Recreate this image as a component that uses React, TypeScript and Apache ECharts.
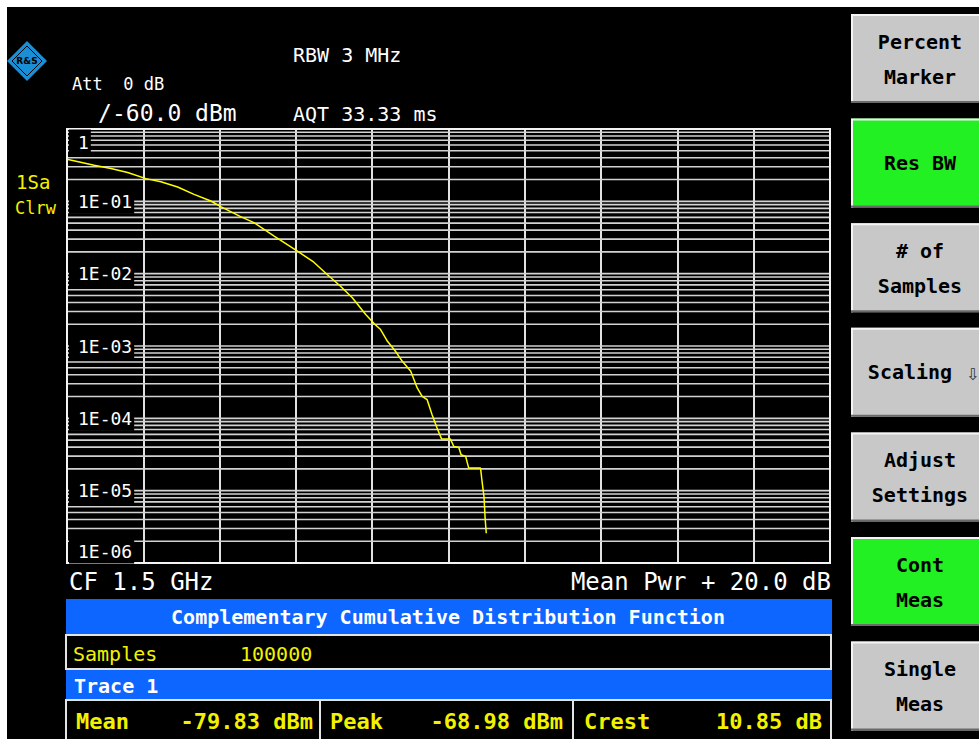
import React, { useEffect, useRef } from "react";
import * as echarts from "echarts";

// CCDF trace (x: dB above mean power, y: probability)
const powerDb = [0, 0.71, 1.15, 1.59, 2.07, 2.46, 2.9, 3.33, 3.77, 4.03, 4.55, 4.9, 5.43, 6.04, 6.47, 6.82, 7.17, 7.48, 7.83, 8.05, 8.22, 8.4, 8.61, 8.79, 9.01, 9.18, 9.31, 9.44, 9.57, 9.7, 9.82, 10.05, 10.14, 10.27, 10.33, 10.45, 10.53, 10.84, 10.88, 10.93, 10.96, 10.99];
const ccdf = [0.382, 0.315, 0.284, 0.25, 0.206, 0.187, 0.158, 0.125, 0.101, 0.0845, 0.0614, 0.0507, 0.0331, 0.0205, 0.0144, 0.00975, 0.00671, 0.00464, 0.00272, 0.00204, 0.00169, 0.00116, 0.000845, 0.000614, 0.000447, 0.000263, 0.000201, 0.000181, 0.000112, 0.0000734, 0.0000516, 0.0000516, 0.0000408, 0.0000395, 0.0000313, 0.0000297, 0.0000205, 0.0000205, 0.0000134, 0.00000828, 0.00000416, 0.00000258];

const decadeValues = [1, 1e-1, 1e-2, 1e-3, 1e-4, 1e-5, 1e-6];
const decadeLabels = ["1", "1E-01", "1E-02", "1E-03", "1E-04", "1E-05", "1E-06"];
const mantissas = [1, 2, 3, 4, 5, 6, 7, 8, 9];

const softkeys = [
  { lines: ["Percent", "Marker"], active: false },
  { lines: ["Res BW"], active: true },
  { lines: ["# of", "Samples"], active: false },
  { lines: ["Scaling"], active: false },
  { lines: ["Adjust", "Settings"], active: false },
  { lines: ["Cont", "Meas"], active: true },
  { lines: ["Single", "Meas"], active: false },
];

const statNames = ["Mean", "Peak", "Crest"];
const statValues = ["-79.83 dBm", "-68.98 dBm", "10.85 dB"];

const FONT = "DejaVu Sans Mono";
const YEL = "#f2f200";
const BLUE = "#0d66ff";
const GRIDC = "#d2d2d2";

export default function App() {
  const ref = useRef<HTMLDivElement>(null);
  useEffect(() => {
    if (!ref.current) return;
    const chart = echarts.init(ref.current, undefined, { renderer: "svg" });

    const gridValues: number[][] = [];
    for (let e = -6; e <= -1; e++) {
      for (const m of mantissas) {
        if (e === -6 && m === 1) continue;
        gridValues.push([0, m * Math.pow(10, e)]);
      }
    }

    chart.setOption({
      animation: false,
      backgroundColor: "#fff",
      textStyle: { fontFamily: FONT },
      grid: {
        left: 67,
        right: 149,
        top: 129,
        bottom: 176,
        show: true,
        borderColor: "#f4f4f4",
        borderWidth: 2,
        backgroundColor: "transparent",
        z: 4,
      },
      xAxis: {
        type: "value",
        min: 0,
        max: 20,
        interval: 2,
        axisLine: { show: false },
        axisTick: { show: false },
        axisLabel: { show: false },
        splitLine: { show: true, lineStyle: { color: "#e2e2e2", width: 2 } },
      },
      yAxis: {
        type: "log",
        logBase: 10,
        min: 1e-6,
        max: 1,
        axisLine: { show: false },
        axisTick: { show: false },
        axisLabel: { show: false },
        splitLine: { show: false },
      },
      series: [
        {
          type: "custom",
          z: 1,
          silent: true,
          encode: { x: 0, y: 1 },
          data: gridValues,
          renderItem: (params: any, api: any) => {
            const v = api.value(1);
            const p1 = api.coord([0, v]);
            const p2 = api.coord([20, v]);
            return {
              type: "line",
              shape: { x1: p1[0], y1: p1[1], x2: p2[0], y2: p2[1] },
              style: { stroke: GRIDC, lineWidth: 1.6 },
            };
          },
        },
        {
          type: "line",
          data: powerDb.map((x, i) => [x, ccdf[i]]),
          showSymbol: false,
          z: 3,
          lineStyle: { color: "#ffff00", width: 1.5 },
          itemStyle: { color: "#ffff00" },
        },
      ],
    });

    const els: any[] = [];
    const T = (text: string, x: number, y: number, size: number, fill: string, opts: any = {}) => ({
      type: "text",
      z: 20,
      style: {
        text,
        x,
        y,
        fill,
        fontSize: size,
        fontFamily: opts.family || FONT,
        fontWeight: opts.bold ? "bold" : "normal",
        align: opts.align || "left",
        verticalAlign: "middle",
        ...(opts.style || {}),
      },
    });

    // black screen
    els.push({ type: "rect", z: -10, shape: { x: 7, y: 7, width: 980, height: 740 }, style: { fill: "#000" } });

    // logo
    els.push({ type: "polygon", z: 5, shape: { points: [[27, 41], [47, 61], [27, 81], [7, 61]] }, style: { fill: "#1a8fd6" } });
    els.push({ type: "polygon", z: 5, shape: { points: [[27, 46], [42, 61], [27, 76], [12, 61]] }, style: { fill: "none", stroke: "#000", lineWidth: 1 } });
    els.push(T("R&S", 27, 61, 9, "#000", { bold: true, align: "center", family: "DejaVu Sans" }));

    // header texts
    els.push(T("RBW 3 MHz", 293, 55, 20, "#fff"));
    els.push(T("Att  0 dB", 72, 84, 17, "#fff"));
    els.push(T("/", 98, 113, 23, "#fff"));
    els.push(T("-60.0 dBm", 112, 113, 23, "#fff"));
    els.push(T("AQT 33.33 ms", 293, 114, 20, "#fff"));
    els.push(T("1Sa", 16, 182, 19, YEL));
    els.push(T("Clrw", 15, 208, 17, YEL));

    // y decade labels placed through the axis scale
    decadeValues.forEach((v, i) => {
      const py = chart.convertToPixel({ yAxisIndex: 0 }, v) as number;
      let y = py;
      if (i === 0) y = py + 13;
      if (i === decadeValues.length - 1) y = py - 12;
      els.push(
        T(decadeLabels[i], 69, y, 18, "#fff", {
          style: { backgroundColor: "#000", padding: [4, 2, 3, 9] },
        })
      );
    });

    // bottom annotations
    els.push(T("CF 1.5 GHz", 69, 582, 24, "#fff"));
    els.push(T("Mean Pwr + 20.0 dB", 831, 582, 24, "#fff", { align: "right" }));

    // table
    els.push({ type: "rect", z: 5, shape: { x: 66, y: 599, width: 766, height: 35 }, style: { fill: BLUE } });
    els.push(T("Complementary Cumulative Distribution Function", 448, 617, 20, "#fff", { bold: true, align: "center" }));
    els.push({ type: "rect", z: 5, shape: { x: 66, y: 635, width: 765, height: 34 }, style: { fill: "#000", stroke: "#e4e4e4", lineWidth: 2 } });
    els.push(T("Samples", 73, 654, 20, YEL));
    els.push(T("100000", 240, 654, 20, YEL));
    els.push({ type: "rect", z: 5, shape: { x: 66, y: 670, width: 766, height: 29 }, style: { fill: BLUE } });
    els.push(T("Trace 1", 74, 686, 20, "#fff", { bold: true }));
    els.push({ type: "rect", z: 5, shape: { x: 66, y: 700, width: 765, height: 50 }, style: { fill: "#000", stroke: "#e4e4e4", lineWidth: 2 } });
    els.push({ type: "line", z: 6, shape: { x1: 320, y1: 700, x2: 320, y2: 739 }, style: { stroke: "#e4e4e4", lineWidth: 2 } });
    els.push({ type: "line", z: 6, shape: { x1: 573, y1: 700, x2: 573, y2: 739 }, style: { stroke: "#e4e4e4", lineWidth: 2 } });
    const nameX = [76, 330, 584];
    const valX = [313, 563, 822];
    statNames.forEach((n, i) => {
      els.push(T(n, nameX[i], 721, 22, YEL, { bold: true }));
      els.push(T(statValues[i], valX[i], 721, 22, YEL, { bold: true, align: "right" }));
    });

    // softkeys
    softkeys.forEach((k, i) => {
      const top = 14 + i * 104.6;
      const h = 89;
      const x = 851;
      els.push({ type: "rect", z: 5, shape: { x, y: top, width: 140, height: h }, style: { fill: k.active ? "#22f022" : "#c8c8c8" } });
      els.push({ type: "polyline", z: 6, shape: { points: [[x + 1, top + h], [x + 1, top + 1], [x + 140, top + 1]] }, style: { stroke: "#f4f4f4", lineWidth: 2, fill: "none" } });
      els.push({ type: "line", z: 6, shape: { x1: x, y1: top + h - 1, x2: x + 140, y2: top + h - 1 }, style: { stroke: "#6a6a6a", lineWidth: 2 } });
      const cy = top + h / 2;
      if (k.lines.length === 2) {
        els.push(T(k.lines[0], 920, cy - 17, 20, "#000", { bold: true, align: "center" }));
        els.push(T(k.lines[1], 920, cy + 18, 20, "#000", { bold: true, align: "center" }));
      } else if (k.lines[0] === "Scaling") {
        els.push(T(k.lines[0], 910, cy, 20, "#000", { bold: true, align: "center" }));
        els.push(T("⇩", 966, cy + 2, 16, "#333", { family: "DejaVu Sans" }));
      } else {
        els.push(T(k.lines[0], 920, cy, 20, "#000", { bold: true, align: "center" }));
      }
    });

    chart.setOption({ graphic: { elements: els } });

    return () => chart.dispose();
  }, []);

  return (
    <div
      ref={ref}
      style={{ position: "fixed", left: 0, top: 0, width: 979, height: 739, background: "#fff" }}
    />
  );
}
